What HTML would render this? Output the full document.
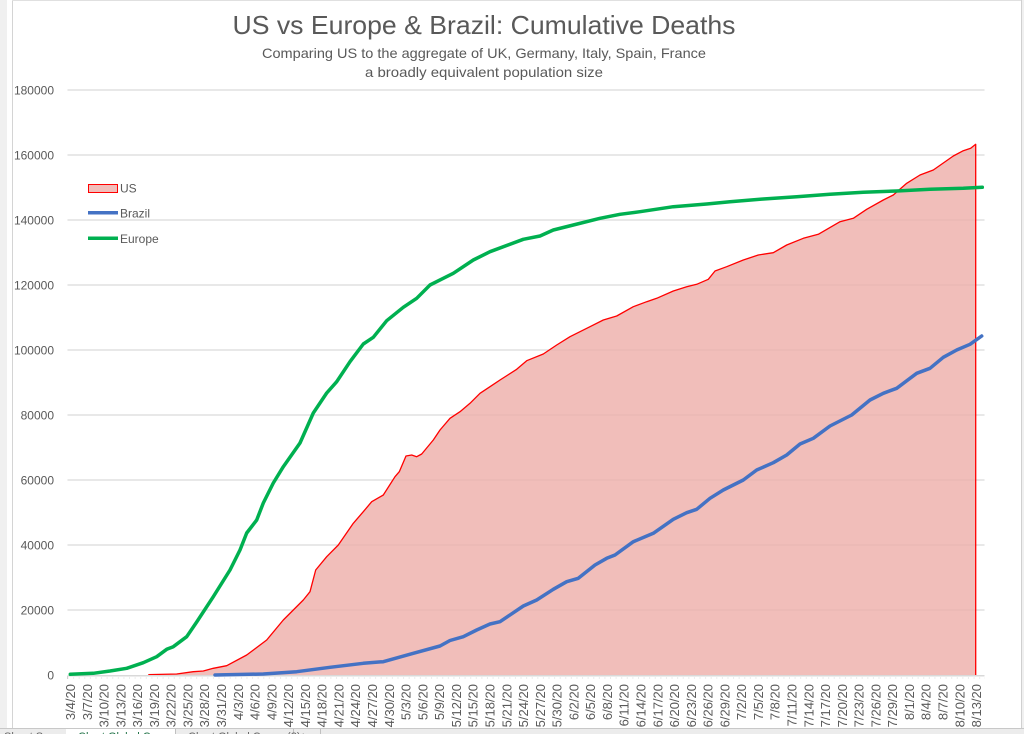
<!DOCTYPE html>
<html><head><meta charset="utf-8"><style>
html,body{margin:0;padding:0;background:#fff;}
body{width:1024px;height:734px;overflow:hidden;position:relative;font-family:"Liberation Sans",sans-serif;}
svg{position:absolute;left:0;top:0;}
</style></head><body>
<svg width="1024" height="734" viewBox="0 0 1024 734" xmlns="http://www.w3.org/2000/svg" font-family="Liberation Sans, sans-serif">
<rect x="0" y="0" width="1024" height="734" fill="#fff"/>
<rect x="0" y="0" width="7" height="728" fill="#f0f0f0"/>
<line x1="12.5" y1="0" x2="12.5" y2="728" stroke="#d4d4d4" stroke-width="1"/>
<line x1="1021.5" y1="0" x2="1021.5" y2="728" stroke="#d0d0d0" stroke-width="1"/>
<rect x="1022" y="0" width="2" height="728" fill="#f0f0f0"/>
<line x1="12" y1="0.5" x2="1021" y2="0.5" stroke="#e0e0e0" stroke-width="1"/>

<!-- titles -->
<text x="484" y="34" text-anchor="middle" font-size="26" fill="#595959" textLength="503" lengthAdjust="spacingAndGlyphs">US vs Europe &amp; Brazil:  Cumulative Deaths</text>
<text x="484" y="58" text-anchor="middle" font-size="14" fill="#595959" textLength="444" lengthAdjust="spacingAndGlyphs">Comparing US to the aggregate of UK, Germany, Italy, Spain, France</text>
<text x="484" y="77" text-anchor="middle" font-size="14" fill="#595959" textLength="238" lengthAdjust="spacingAndGlyphs">a broadly equivalent population size</text>

<!-- gridlines -->
<g stroke="#d9d9d9" stroke-width="1.2">
<line x1="67.5" y1="90" x2="984.5" y2="90"/>
<line x1="67.5" y1="155" x2="984.5" y2="155"/>
<line x1="67.5" y1="220" x2="984.5" y2="220"/>
<line x1="67.5" y1="285" x2="984.5" y2="285"/>
<line x1="67.5" y1="350" x2="984.5" y2="350"/>
<line x1="67.5" y1="415" x2="984.5" y2="415"/>
<line x1="67.5" y1="480" x2="984.5" y2="480"/>
<line x1="67.5" y1="545" x2="984.5" y2="545"/>
<line x1="67.5" y1="610" x2="984.5" y2="610"/>
</g>

<!-- y labels -->
<g font-size="12" fill="#595959" text-anchor="end">
<text x="54" y="94.3">180000</text>
<text x="54" y="159.3">160000</text>
<text x="54" y="224.3">140000</text>
<text x="54" y="289.3">120000</text>
<text x="54" y="354.3">100000</text>
<text x="54" y="419.3">80000</text>
<text x="54" y="484.3">60000</text>
<text x="54" y="549.3">40000</text>
<text x="54" y="614.3">20000</text>
<text x="54" y="679.3">0</text>
</g>

<!-- US area -->
<polygon fill="rgb(238,174,169)" fill-opacity="0.8" points="148.3,675 148.3,674.6 176.7,674 193.3,671.7 203.3,671 213.3,668.3 226.7,665.7 246.7,655 266.7,640 283.3,620 293.3,610 303.3,600 310,591.7 315.7,570 326.7,556.7 338.3,545 353.3,523.3 363.3,511.7 371.7,501.7 383.3,495 395,476.7 399.3,471.7 406,456 411.7,455 416.7,456.7 421.7,454 433.3,440 440,430 450,418.3 460,411.7 470,403.3 480,393.3 490,386.7 500,380 516.7,369.3 526.7,360.7 543.3,354 556.7,345 570,336.7 590,326.7 603.3,320 616.7,316 633.3,306.7 646.7,301.7 656.7,298.3 673.3,291 686.7,286.7 696.7,284.3 708.3,279.3 715,271 726.7,266.7 743.3,260 758.3,255 773.3,252.7 786.7,245 803.3,238.3 818.3,234.3 840,221.7 853.3,218.3 866.7,209.3 883.3,200 893.3,195 906.7,183.3 920,175 933.3,170 953.3,156 963.3,150.7 970.7,148.3 975.7,144.3 975.7,675"/>
<polyline fill="none" stroke="#ff0000" stroke-width="1.3" stroke-linejoin="round" points="148.3,674.6 176.7,674 193.3,671.7 203.3,671 213.3,668.3 226.7,665.7 246.7,655 266.7,640 283.3,620 293.3,610 303.3,600 310,591.7 315.7,570 326.7,556.7 338.3,545 353.3,523.3 363.3,511.7 371.7,501.7 383.3,495 395,476.7 399.3,471.7 406,456 411.7,455 416.7,456.7 421.7,454 433.3,440 440,430 450,418.3 460,411.7 470,403.3 480,393.3 490,386.7 500,380 516.7,369.3 526.7,360.7 543.3,354 556.7,345 570,336.7 590,326.7 603.3,320 616.7,316 633.3,306.7 646.7,301.7 656.7,298.3 673.3,291 686.7,286.7 696.7,284.3 708.3,279.3 715,271 726.7,266.7 743.3,260 758.3,255 773.3,252.7 786.7,245 803.3,238.3 818.3,234.3 840,221.7 853.3,218.3 866.7,209.3 883.3,200 893.3,195 906.7,183.3 920,175 933.3,170 953.3,156 963.3,150.7 970.7,148.3 975.7,144.3 975.7,675"/>

<!-- x axis -->
<line x1="67.5" y1="675.5" x2="984.5" y2="675.5" stroke="#d9d9d9" stroke-width="1"/>
<path stroke="#d9d9d9" stroke-width="1" fill="none" stroke-dasharray="1 4.593" d="M67.5,678 H985"/>
<line x1="67.5" y1="676" x2="984.5" y2="676" stroke="#d9d9d9" stroke-width="1"/>
<path stroke="#d0d0d0" stroke-width="1" fill="none" d="M67.5,676V679" />

<!-- Brazil -->
<polyline fill="none" stroke="#4472c4" stroke-width="3.5" stroke-linejoin="round" stroke-linecap="round" points="215,675 263.3,674 296.7,671.7 330,667.3 363.3,663.3 383.3,661.7 413.3,653.3 440,646 450,640.5 463.3,636.7 476.7,630 490,624 500,621.7 523.3,606 536.7,600 553.3,589.3 566.7,581.7 578.3,578.3 595,565 606.7,558.3 615,555 633.3,541.7 653.3,533.3 673.3,519.3 686.7,512.7 696.7,509.3 710,498.3 723.3,490 743.3,480 756.7,470 773.3,462.7 786.7,455 800,444 813.3,438.3 830,426 851.7,415 870,400 883.3,393.3 896.7,388.3 916.7,373.3 930,368.3 943.3,357.3 956.7,350 970,344.3 981.7,336"/>

<!-- Europe -->
<polyline fill="none" stroke="#00b050" stroke-width="3.5" stroke-linejoin="round" stroke-linecap="round" points="70.3,674.3 93.3,673.3 110,671 126.7,668.3 143.3,662.7 156.7,656.7 166.7,649.3 173.3,646.7 186.7,636.7 196.7,622 213.3,596.7 230,570 240,550 246.7,533 256.7,520 263.3,503 273.3,483 283.3,466.7 300,443 313.3,413 326.7,393 336.7,381.7 350,361.7 363.3,344 373.3,337.3 386.7,320.7 403.3,307.3 416.7,298.3 430,285 443.3,278.3 453.3,273.3 473.3,260 490,251.7 523.3,239.3 540,236 553.3,230 573.3,225 600,218.3 620,214.3 640,211.7 673.3,206.7 706.7,204 730,201.7 763.3,199 796.7,196.7 830,194.3 863.3,192.3 896.7,191 930,189.3 963.3,188.3 982.3,187.3"/>

<!-- legend -->
<rect x="88.5" y="184.5" width="29" height="8" fill="rgb(241,190,186)" stroke="#ff0000" stroke-width="1"/>
<text x="120" y="192.5" font-size="12" fill="#595959">US</text>
<line x1="88" y1="212.7" x2="118" y2="212.7" stroke="#4472c4" stroke-width="3.5"/>
<text x="120" y="217.5" font-size="12" fill="#595959">Brazil</text>
<line x1="88" y1="238.3" x2="118" y2="238.3" stroke="#00b050" stroke-width="3.5"/>
<text x="120" y="243" font-size="12" fill="#595959">Europe</text>

<!-- x labels -->
<g font-size="13" fill="#595959" text-anchor="end">
<text transform="translate(75.0,684) rotate(-90)">3/4/20</text>
<text transform="translate(91.8,684) rotate(-90)">3/7/20</text>
<text transform="translate(108.5,684) rotate(-90)">3/10/20</text>
<text transform="translate(125.3,684) rotate(-90)">3/13/20</text>
<text transform="translate(142.1,684) rotate(-90)">3/16/20</text>
<text transform="translate(158.9,684) rotate(-90)">3/19/20</text>
<text transform="translate(175.7,684) rotate(-90)">3/22/20</text>
<text transform="translate(192.5,684) rotate(-90)">3/25/20</text>
<text transform="translate(209.2,684) rotate(-90)">3/28/20</text>
<text transform="translate(226.0,684) rotate(-90)">3/31/20</text>
<text transform="translate(242.8,684) rotate(-90)">4/3/20</text>
<text transform="translate(259.6,684) rotate(-90)">4/6/20</text>
<text transform="translate(276.3,684) rotate(-90)">4/9/20</text>
<text transform="translate(293.1,684) rotate(-90)">4/12/20</text>
<text transform="translate(309.9,684) rotate(-90)">4/15/20</text>
<text transform="translate(326.7,684) rotate(-90)">4/18/20</text>
<text transform="translate(343.5,684) rotate(-90)">4/21/20</text>
<text transform="translate(360.2,684) rotate(-90)">4/24/20</text>
<text transform="translate(377.0,684) rotate(-90)">4/27/20</text>
<text transform="translate(393.8,684) rotate(-90)">4/30/20</text>
<text transform="translate(410.6,684) rotate(-90)">5/3/20</text>
<text transform="translate(427.4,684) rotate(-90)">5/6/20</text>
<text transform="translate(444.1,684) rotate(-90)">5/9/20</text>
<text transform="translate(460.9,684) rotate(-90)">5/12/20</text>
<text transform="translate(477.7,684) rotate(-90)">5/15/20</text>
<text transform="translate(494.5,684) rotate(-90)">5/18/20</text>
<text transform="translate(511.3,684) rotate(-90)">5/21/20</text>
<text transform="translate(528.0,684) rotate(-90)">5/24/20</text>
<text transform="translate(544.8,684) rotate(-90)">5/27/20</text>
<text transform="translate(561.6,684) rotate(-90)">5/30/20</text>
<text transform="translate(578.4,684) rotate(-90)">6/2/20</text>
<text transform="translate(595.2,684) rotate(-90)">6/5/20</text>
<text transform="translate(611.9,684) rotate(-90)">6/8/20</text>
<text transform="translate(628.7,684) rotate(-90)">6/11/20</text>
<text transform="translate(645.5,684) rotate(-90)">6/14/20</text>
<text transform="translate(662.3,684) rotate(-90)">6/17/20</text>
<text transform="translate(679.0,684) rotate(-90)">6/20/20</text>
<text transform="translate(695.8,684) rotate(-90)">6/23/20</text>
<text transform="translate(712.6,684) rotate(-90)">6/26/20</text>
<text transform="translate(729.4,684) rotate(-90)">6/29/20</text>
<text transform="translate(746.2,684) rotate(-90)">7/2/20</text>
<text transform="translate(762.9,684) rotate(-90)">7/5/20</text>
<text transform="translate(779.7,684) rotate(-90)">7/8/20</text>
<text transform="translate(796.5,684) rotate(-90)">7/11/20</text>
<text transform="translate(813.3,684) rotate(-90)">7/14/20</text>
<text transform="translate(830.1,684) rotate(-90)">7/17/20</text>
<text transform="translate(846.8,684) rotate(-90)">7/20/20</text>
<text transform="translate(863.6,684) rotate(-90)">7/23/20</text>
<text transform="translate(880.4,684) rotate(-90)">7/26/20</text>
<text transform="translate(897.2,684) rotate(-90)">7/29/20</text>
<text transform="translate(914.0,684) rotate(-90)">8/1/20</text>
<text transform="translate(930.7,684) rotate(-90)">8/4/20</text>
<text transform="translate(947.5,684) rotate(-90)">8/7/20</text>
<text transform="translate(964.3,684) rotate(-90)">8/10/20</text>
<text transform="translate(981.1,684) rotate(-90)">8/13/20</text>
</g>

<!-- bottom sheet tab bar -->
<rect x="0" y="728" width="1024" height="6" fill="#ececec"/>
<line x1="0" y1="728.5" x2="1024" y2="728.5" stroke="#c8c8c8" stroke-width="1"/>
<rect x="66" y="729" width="109" height="5" fill="#ffffff"/>
<line x1="175.5" y1="729" x2="175.5" y2="734" stroke="#c0c0c0"/>
<line x1="293.5" y1="729" x2="293.5" y2="734" stroke="#c0c0c0"/>
<line x1="320.5" y1="729" x2="320.5" y2="734" stroke="#c0c0c0"/>
<g font-size="11">
<text x="4" y="740" fill="#666">Sheet Summary</text>
<text x="78" y="740" fill="#1e7145">Chart Global Cases</text>
<text x="188" y="740" fill="#666">Chart Global Cases (2)</text>
<text x="300" y="740" fill="#666">+</text>
</g>
</svg>
</body></html>
